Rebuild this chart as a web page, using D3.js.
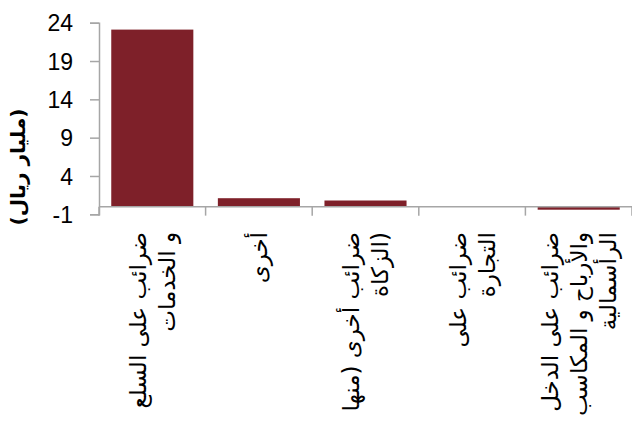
<!DOCTYPE html>
<html lang="ar">
<head>
<meta charset="UTF-8">
<title>Bar chart</title>
<script src="https://d3js.org/d3.v7.min.js"></script>
<style>
  body { margin: 0; background: #fff; }
  svg { display: block; }
  .tick-label { font-family: "Liberation Sans", Arial, sans-serif; font-size: 23px; fill: #000; }
  .cat-label { font-family: "DejaVu Sans", sans-serif; font-size: 23px; fill: #000; }
  .y-title { font-family: "DejaVu Sans", sans-serif; font-size: 20px; font-weight: bold; fill: #000; }
</style>
</head>
<body>
<svg id="chart"></svg>
<script>
// Data
const categories = [
  ["ضرائب على السلع", "و الخدمات"],
  ["أخرى"],
  ["ضرائب أخرى (منها", "الزكاة)"],
  ["ضرائب على", "التجارة"],
  ["ضرائب على الدخل", "والأرباح و المكاسب", "الرأسمالية"]
];
const values = [23.1, 1.1, 0.8, 0.0, -0.4];
const yTicks = [-1, 4, 9, 14, 19, 24];
const yTitle = "(مليار ريال)";

const width = 632, height = 430;
const margin = { left: 99, right: 0, top: 22.7, bottom: 430 - 214.3 };

const svg = d3.select("#chart")
  .attr("width", width)
  .attr("height", height);

const x = d3.scaleBand()
  .domain(d3.range(values.length))
  .range([margin.left, width - margin.right])
  .paddingInner(0.23)
  .paddingOuter(0.115);

const y = d3.scaleLinear()
  .domain([-1, 24])
  .range([height - margin.bottom, margin.top]);

const axisColor = "#a6a6a6";

// bars
svg.append("g")
  .selectAll("rect")
  .data(values)
  .join("rect")
  .attr("x", (d, i) => x(i))
  .attr("width", x.bandwidth())
  .attr("y", d => y(Math.max(0, d)))
  .attr("height", d => Math.abs(y(d) - y(0)))
  .attr("fill", "#7e2029");

// y axis
const yAxis = svg.append("g")
  .attr("transform", `translate(${margin.left},0)`)
  .call(d3.axisLeft(y).tickValues(yTicks).tickFormat(d => String(d)).tickSize(9).tickPadding(17));
yAxis.select(".domain").attr("stroke", axisColor).attr("stroke-width", 1.5);
yAxis.selectAll(".tick line").attr("stroke", axisColor).attr("stroke-width", 1.5);
yAxis.selectAll(".tick text").attr("class", "tick-label").attr("dy", "0.36em");

// x axis at zero, ticks sit between the categories
const plotW = width - margin.right - margin.left;
const boundaries = d3.range(values.length + 1).map(i => margin.left + i * plotW / values.length);
const xg = svg.append("g");
xg.append("line")
  .attr("x1", margin.left).attr("x2", width - margin.right)
  .attr("y1", y(0)).attr("y2", y(0))
  .attr("stroke", axisColor).attr("stroke-width", 1.5);
xg.selectAll("line.tk")
  .data(boundaries)
  .join("line")
  .attr("class", "tk")
  .attr("x1", d => d).attr("x2", d => d)
  .attr("y1", y(0)).attr("y2", y(0) + 9)
  .attr("stroke", axisColor).attr("stroke-width", 1.5);

// category labels, vertical
const lineH = 29;
const labels = svg.append("g")
  .selectAll("text")
  .data(categories)
  .join("text")
  .attr("class", "cat-label")
  .attr("text-anchor", "end")
  .attr("transform", (d, i) => `translate(${x(i) + x.bandwidth() / 2},232) rotate(-90)`);
labels.each(function(lines) {
  const t = d3.select(this);
  lines.forEach((ln, k) => {
    t.append("tspan")
      .attr("x", 0)
      .attr("y", (k - (lines.length - 1) / 2) * lineH)
      .attr("dy", "0.35em")
      .text(ln);
  });
});

// y axis title
svg.append("text")
  .attr("class", "y-title")
  .attr("text-anchor", "middle")
  .attr("transform", "translate(18,167) rotate(-90)")
  .attr("dy", "0.35em")
  .text(yTitle);
</script>
</body>
</html>
